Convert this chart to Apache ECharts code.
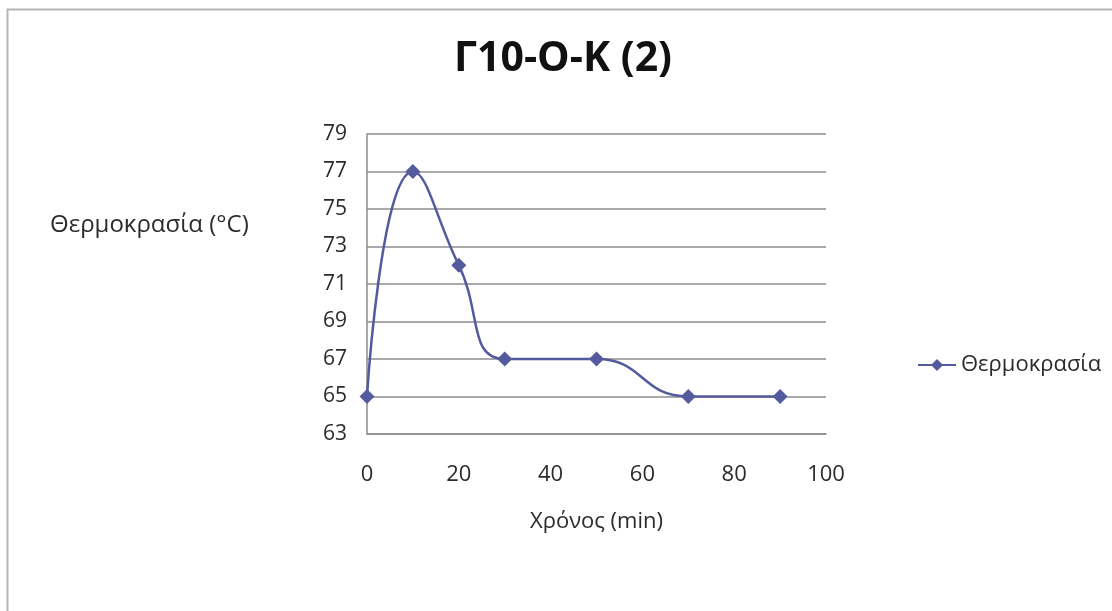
<!DOCTYPE html>
<html>
<head>
<meta charset="utf-8">
<script src="https://cdn.jsdelivr.net/npm/echarts@6/dist/echarts.min.js"></script>
<style>
  html, body { margin: 0; padding: 0; background: #fff; }
  #chart { width: 1112px; height: 611px; }
</style>
</head>
<body>
<div id="chart"></div>
<script>
// Temperature readings over time
const timeMin = [0, 10, 20, 30, 50, 70, 90];
const temperature = [65, 77, 72, 67, 67, 65, 65];
const yTicks = [63, 65, 67, 69, 71, 73, 75, 77, 79];
const xTicks = [0, 20, 40, 60, 80, 100];

const chartTitle = 'Γ10-Ο-Κ (2)';
const seriesName = 'Θερμοκρασία';
const xName = 'Χρόνος (min)';
const yName = 'Θερμοκρασία (°C)';

const font = '"Open Sans", "Noto Sans", sans-serif';
const lineColor = '#545a9e';
const textColor = '#2b2b2b';

const chart = echarts.init(document.getElementById('chart'));
chart.setOption({
  backgroundColor: '#fff',
  animation: false,
  title: {
    text: chartTitle,
    left: 558, top: 34, textAlign: 'center',
    textStyle: { fontFamily: font, fontSize: 41, fontWeight: 'bold', color: '#111' }
  },
  legend: {
    data: [seriesName],
    left: 912, top: 349,
    itemWidth: 38, itemHeight: 15,
    textStyle: { fontFamily: font, fontSize: 22, color: textColor }
  },
  grid: { left: 367, right: 1112 - 826, top: 134, bottom: 611 - 434 },
  xAxis: {
    type: 'value',
    min: xTicks[0], max: xTicks[xTicks.length - 1], interval: 20,
    name: xName, nameLocation: 'middle', nameGap: 77,
    nameTextStyle: { fontFamily: font, fontSize: 22, color: textColor },
    axisLine: { show: true, lineStyle: { color: '#8c8c8c', width: 1.5 } },
    axisTick: { show: false },
    splitLine: { show: false },
    axisLabel: { margin: 30, fontFamily: font, fontSize: 22, color: textColor }
  },
  yAxis: {
    type: 'value',
    min: yTicks[0], max: yTicks[yTicks.length - 1], interval: 2,
    axisLine: { show: true, lineStyle: { color: '#8c8c8c', width: 1.5 } },
    axisTick: { show: false },
    splitLine: { show: true, lineStyle: { color: '#8c8c8c', width: 1.5 } },
    axisLabel: { margin: 20, fontFamily: font, fontSize: 21, color: textColor }
  },
  graphic: [
    {
      type: 'rect', left: 5, top: 7,
      shape: { width: 1200, height: 700 },
      style: { fill: 'none', stroke: '#b5b5b5', lineWidth: 2 }
    },
    {
      type: 'text', left: 50, top: 213,
      style: { text: yName, font: '24px ' + font, fill: textColor }
    }
  ],
  series: [{
    name: seriesName,
    type: 'line',
    smooth: 0.5,
    data: timeMin.map((t, i) => [t, temperature[i]]),
    symbol: 'diamond',
    symbolSize: 15,
    itemStyle: { color: lineColor },
    lineStyle: { color: lineColor, width: 2.5 }
  }]
});
</script>
</body>
</html>
